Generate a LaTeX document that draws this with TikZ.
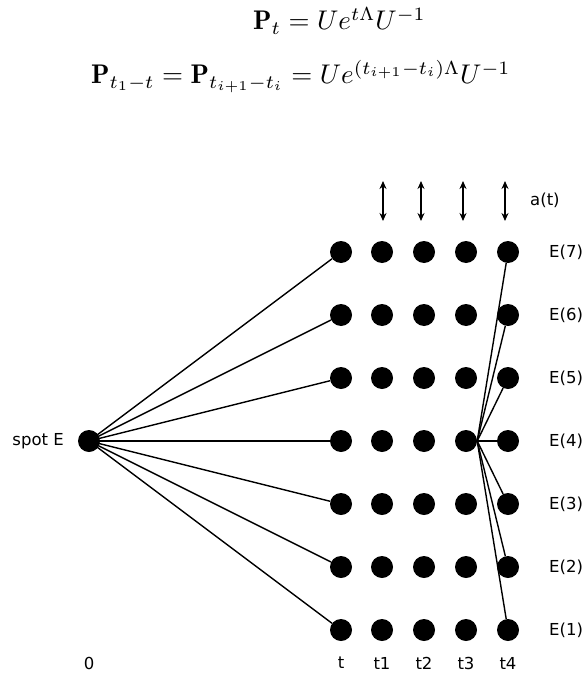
\documentclass[tikz,border=0pt]{standalone}
\usepackage{amsmath}
\usepackage{graphicx}
\usepackage{fontspec}
\setsansfont{DejaVu Sans}
\usetikzlibrary{arrows.meta}
\newcommand{\bigeq}[1]{\scalebox{2.7}{$#1$}}
\begin{document}
\begin{tikzpicture}[x=1pt,y=-1pt,
  dot/.style={circle,fill=black,inner sep=0pt,minimum size=22pt},
  lbl/.style={font=\sffamily\fontsize{16.5}{19}\selectfont,inner sep=0pt},
  eq/.style={inner sep=0pt,anchor=base west},
  edge/.style={line width=1.4pt},
  dbl/.style={line width=1.4pt,{Stealth[length=8pt,width=7pt]}-{Stealth[length=8pt,width=7pt]}}]
\useasboundingbox (0,0) rectangle (585,674);
\node[eq] (eq1) at (253,30) {\bigeq{\mathbf{P}_t = Ue^{t\Lambda}U^{-1}}};
\node[eq] (eq2) at (91,84) {\bigeq{\mathbf{P}_{t_1-t} = \mathbf{P}_{t_{i+1}-t_i} = Ue^{(t_{i+1}-t_i)\Lambda}U^{-1}}};
% dots
\node[dot] (spot) at (89,441) {};
\foreach \c/\x in {0/341,1/382,2/424,3/466,4/508}{
  \foreach \r/\y in {7/252,6/315,5/378,4/441,3/504,2/567,1/630}{
    \node[dot] (d\c-\r) at (\x,\y) {};
  }
}
% labels
\node[lbl,anchor=east] (spotl) at (64,441) {spot E};
\foreach \r/\y in {7/252,6/315,5/378,4/441,3/504,2/567,1/630}{
  \node[lbl,anchor=west] (E\r) at (549,\y) {E(\r)};
}
\node[lbl,anchor=west] (at) at (530,200) {a(t)};
\node[lbl] (l0) at (89,663) {0};
\node[lbl] (lt) at (341,663) {t};
\node[lbl] (lt1) at (382,663) {t1};
\node[lbl] (lt2) at (424,663) {t2};
\node[lbl] (lt3) at (466,663) {t3};
\node[lbl] (lt4) at (508,663) {t4};
% arrows
\foreach \i/\x in {1/383,2/421,3/463,4/505}{
  \coordinate (a\i t) at (\x,181);
  \coordinate (a\i b) at (\x,221);
  \draw[dbl] (a\i t) -- (a\i b);
}
% connectors
\foreach \r in {1,...,7}{
  \draw[edge] (spot.center) -- (d0-\r);
  \draw[edge] (d3-4.east) -- (d4-\r);
}
\end{tikzpicture}
\end{document}
